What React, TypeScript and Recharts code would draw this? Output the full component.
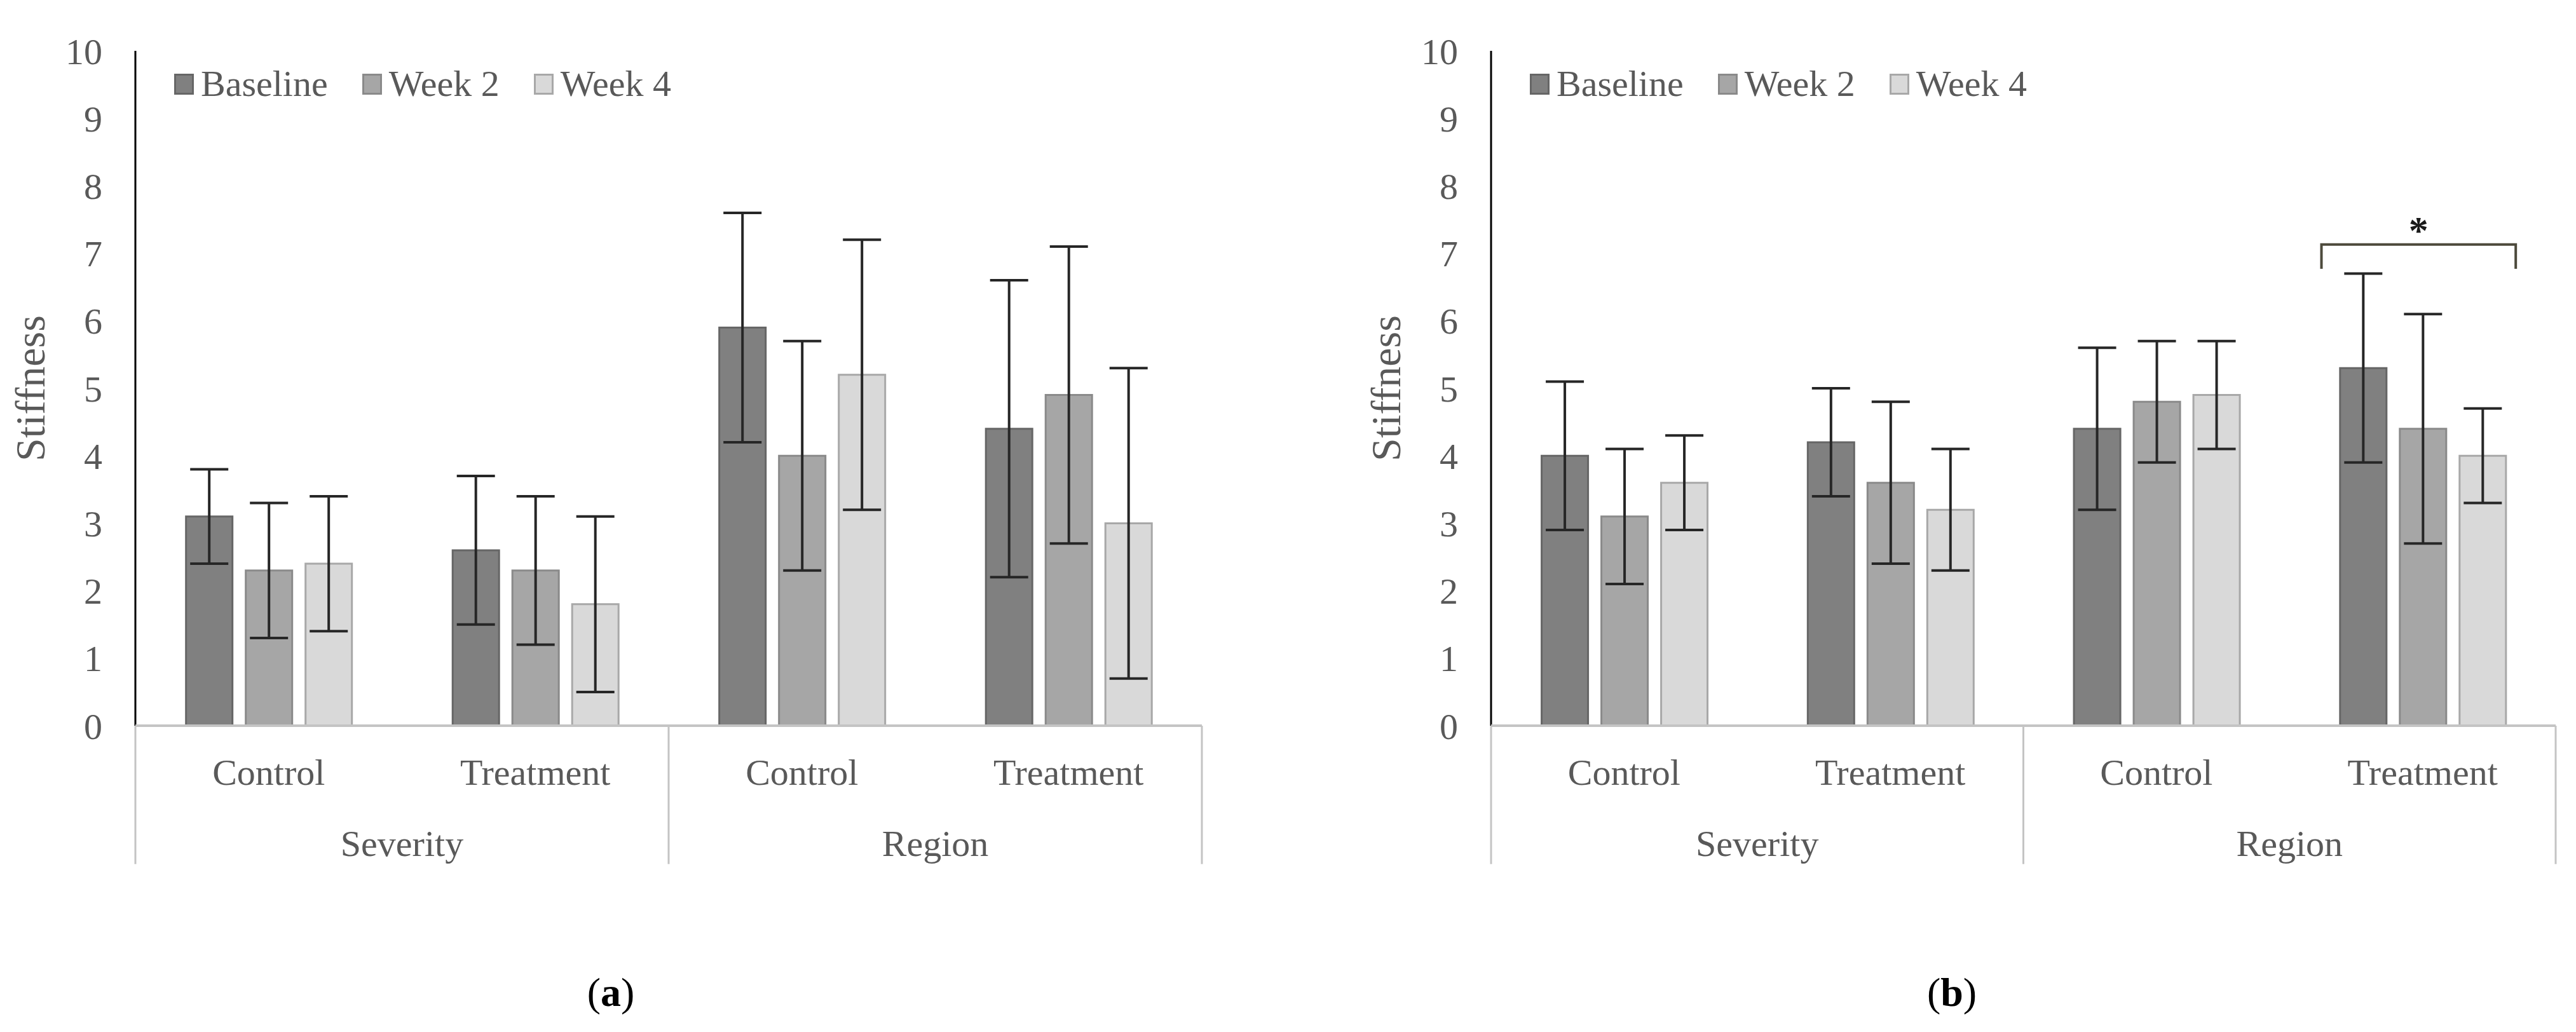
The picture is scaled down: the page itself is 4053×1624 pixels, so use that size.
import React from "react";
import { Bar, BarChart, ErrorBar, Legend, ReferenceArea, ReferenceLine, XAxis, YAxis } from "recharts";

const CATEGORY_KEYS = ["sev-control", "sev-treatment", "reg-control", "reg-treatment"];
const CATEGORY_LABELS = ["Control", "Treatment", "Control", "Treatment"];
const GROUP_LABELS = ["Severity", "Severity", "Region", "Region"];
const SERIES_NAMES = ["Baseline", "Week 2", "Week 4"];
const Y_TICKS = [0, 1, 2, 3, 4, 5, 6, 7, 8, 9, 10];

// panel (a)
const A_BASELINE = [3.1, 2.6, 5.9, 4.4];
const A_BASELINE_ERR = [0.7, 1.1, 1.7, 2.2];
const A_WEEK2 = [2.3, 2.3, 4.0, 4.9];
const A_WEEK2_ERR = [1.0, 1.1, 1.7, 2.2];
const A_WEEK4 = [2.4, 1.8, 5.2, 3.0];
const A_WEEK4_ERR = [1.0, 1.3, 2.0, 2.3];

// panel (b)
const B_BASELINE = [4.0, 4.2, 4.4, 5.3];
const B_BASELINE_ERR = [1.1, 0.8, 1.2, 1.4];
const B_WEEK2 = [3.1, 3.6, 4.8, 4.4];
const B_WEEK2_ERR = [1.0, 1.2, 0.9, 1.7];
const B_WEEK4 = [3.6, 3.2, 4.9, 4.0];
const B_WEEK4_ERR = [0.7, 0.9, 0.8, 0.7];

// significance bracket in (b): category, bracket top, bracket ends
const SIG_CATEGORY = "reg-treatment";
const SIG_TOP = 7.13;
const SIG_BOTTOM = 6.77;

const FONT = '"Liberation Serif", "Times New Roman", serif';
const TEXT = "#595959";
const FILLS = ["#808080", "#a6a6a6", "#d9d9d9"];
const STROKES = ["#666666", "#8a8a8a", "#a8a8a8"];
const AXIS_GRAY = "#c4c4c4";

function buildRows(values: number[][], errors: number[][]) {
  return CATEGORY_KEYS.map((key, i) => ({
    key,
    group: GROUP_LABELS[i],
    s0: values[0][i],
    e0: errors[0][i],
    s1: values[1][i],
    e1: errors[1][i],
    s2: values[2][i],
    e2: errors[2][i]
  }));
}

const DATA_A = buildRows([A_BASELINE, A_WEEK2, A_WEEK4], [A_BASELINE_ERR, A_WEEK2_ERR, A_WEEK4_ERR]);
const DATA_B = buildRows([B_BASELINE, B_WEEK2, B_WEEK4], [B_BASELINE_ERR, B_WEEK2_ERR, B_WEEK4_ERR]);

function CategoryTick({ x, y, payload }: any) {
  const idx = CATEGORY_KEYS.indexOf(payload.value);
  return (
    <text x={x} y={y + 93} textAnchor="middle" fontFamily={FONT} fontSize={58} fill={TEXT}>
      {CATEGORY_LABELS[idx]}
    </text>
  );
}

function GroupTick({ x, y, payload }: any) {
  return (
    <text x={x} y={y + 75} textAnchor="middle" fontFamily={FONT} fontSize={58} fill={TEXT}>
      {payload.value}
    </text>
  );
}

function AxisTitle({ viewBox }: any) {
  const cx = viewBox.x + 47;
  const cy = viewBox.y + viewBox.height / 2;
  return (
    <text
      x={cx}
      y={cy}
      transform={`rotate(-90 ${cx} ${cy})`}
      textAnchor="middle"
      dominantBaseline="central"
      fontFamily={FONT}
      fontSize={66}
      fill={TEXT}
    >
      Stiffness
    </text>
  );
}

function LegendContent() {
  return (
    <div style={{ display: "flex", alignItems: "center", fontFamily: FONT, fontSize: 58, color: TEXT, lineHeight: 1 }}>
      {SERIES_NAMES.map((name, i) => (
        <div key={name} style={{ display: "flex", alignItems: "center", marginRight: 54 }}>
          <span
            style={{
              display: "inline-block",
              width: 31,
              height: 33,
              background: FILLS[i],
              border: `3px solid ${STROKES[i]}`,
              boxSizing: "border-box",
              marginRight: 11
            }}
          />
          <span>{name}</span>
        </div>
      ))}
    </div>
  );
}

function SignificanceBracket({ x, y, width, height }: any) {
  const left = x + width * 0.12;
  const right = x + width * 0.85;
  const bottom = y + height;
  return (
    <g>
      <path d={`M${left},${bottom} V${y} H${right} V${bottom}`} fill="none" stroke="#4d4a3c" strokeWidth={4} />
      <text x={(left + right) / 2} y={y - 2} textAnchor="middle" fontFamily={FONT} fontWeight="bold" fontSize={62} fill="#1a1a1a">
        *
      </text>
    </g>
  );
}

function Panel({ data, width, marginRight, showBracket }: { data: any[]; width: number; marginRight: number; showBracket?: boolean }) {
  return (
    <BarChart
      width={width}
      height={1400}
      data={data}
      margin={{ top: 80, right: marginRight, left: 0, bottom: 38 }}
      barCategoryGap="19%"
      barGap={21}
    >
      <YAxis
        width={213}
        domain={[0, 10]}
        ticks={Y_TICKS}
        interval={0}
        axisLine={{ stroke: "#000", strokeWidth: 3 }}
        tickLine={false}
        tickSize={0}
        tickMargin={52}
        tick={{ fill: TEXT, fontSize: 58, fontFamily: FONT }}
        label={{ content: AxisTitle }}
      />
      <XAxis
        dataKey="key"
        height={130}
        axisLine={{ stroke: AXIS_GRAY, strokeWidth: 4 }}
        tickLine={false}
        tickSize={0}
        tickMargin={0}
        interval={0}
        tick={<CategoryTick />}
      />
      <XAxis
        xAxisId="group"
        dataKey="group"
        allowDuplicatedCategory={false}
        height={90}
        axisLine={false}
        tickLine={false}
        tickSize={0}
        tickMargin={0}
        interval={0}
        tick={<GroupTick />}
      />
      <Legend
        layout="horizontal"
        verticalAlign="middle"
        align="center"
        wrapperStyle={{ left: 274, top: 103, width: "auto" }}
        content={<LegendContent />}
      />
      {["s0", "s1", "s2"].map((key, i) => (
        <Bar key={key} dataKey={key} name={SERIES_NAMES[i]} fill={FILLS[i]} stroke={STROKES[i]} strokeWidth={3} isAnimationActive={false}>
          <ErrorBar dataKey={`e${i}`} width={30} strokeWidth={4} stroke="#262626" direction="y" isAnimationActive={false} />
        </Bar>
      ))}
      <ReferenceLine
        segment={[{ x: CATEGORY_KEYS[0], y: 0 }, { x: CATEGORY_KEYS[0], y: -2.05 }]}
        position="start"
        stroke={AXIS_GRAY}
        strokeWidth={3}
        ifOverflow="visible"
      />
      <ReferenceLine
        segment={[{ x: CATEGORY_KEYS[2], y: 0 }, { x: CATEGORY_KEYS[2], y: -2.05 }]}
        position="start"
        stroke={AXIS_GRAY}
        strokeWidth={3}
        ifOverflow="visible"
      />
      <ReferenceLine
        segment={[{ x: CATEGORY_KEYS[3], y: 0 }, { x: CATEGORY_KEYS[3], y: -2.05 }]}
        position="end"
        stroke={AXIS_GRAY}
        strokeWidth={3}
        ifOverflow="visible"
      />
      {showBracket ? (
        <ReferenceArea
          x1={SIG_CATEGORY}
          x2={SIG_CATEGORY}
          y1={SIG_BOTTOM}
          y2={SIG_TOP}
          ifOverflow="visible"
          shape={<SignificanceBracket />}
        />
      ) : null}
    </BarChart>
  );
}

const captionStyle: React.CSSProperties = {
  position: "absolute",
  top: 1562,
  transform: "translate(-50%, -50%)",
  fontFamily: FONT,
  fontSize: 64,
  color: "#000",
  lineHeight: 1
};

export default function App() {
  return (
    <div style={{ position: "absolute", left: 0, top: 0, width: 4053, height: 1624, background: "#fff", overflow: "hidden" }}>
      <div style={{ position: "absolute", left: 0, top: 0 }}>
        <Panel data={DATA_A} width={2000} marginRight={109} />
      </div>
      <div style={{ position: "absolute", left: 2133, top: 0 }}>
        <Panel data={DATA_B} width={1920} marginRight={32} showBracket />
      </div>
      <div style={{ ...captionStyle, left: 961 }}>
        (<b>a</b>)
      </div>
      <div style={{ ...captionStyle, left: 3071 }}>
        (<b>b</b>)
      </div>
    </div>
  );
}
